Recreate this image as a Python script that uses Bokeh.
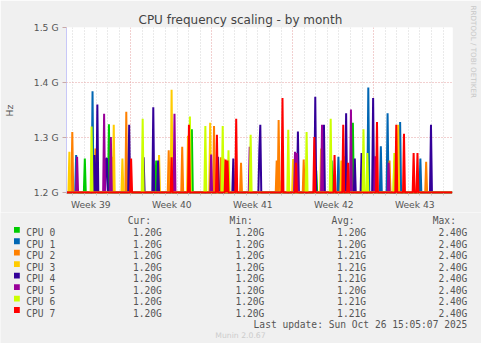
import numpy as np
from bokeh.plotting import figure
from bokeh.layouts import column
from bokeh.models import Range1d, FixedTicker, Grid, Title, PrintfTickFormatter, CustomJSTickFormatter
from bokeh.core.properties import value
from bokeh.embed import file_html
from bokeh.resources import INLINE

# ---------------- data ----------------
cpu_names = ["CPU 0", "CPU 1", "CPU 2", "CPU 3", "CPU 4", "CPU 5", "CPU 6", "CPU 7"]
cur_vals = ["1.20G", "1.20G", "1.20G", "1.20G", "1.20G", "1.20G", "1.20G", "1.20G"]
min_vals = ["1.20G", "1.20G", "1.20G", "1.20G", "1.20G", "1.20G", "1.20G", "1.20G"]
avg_vals = ["1.20G", "1.20G", "1.21G", "1.21G", "1.21G", "1.20G", "1.21G", "1.21G"]
max_vals = ["2.40G", "2.40G", "2.40G", "2.40G", "2.40G", "2.40G", "2.40G", "2.40G"]
col_heads = ["Cur:", "Min:", "Avg:", "Max:"]

base_ghz = 1.2
n_days = 33.36           # visible time span (days)
samples_per_day = 12     # 2-hour resolution

# spikes: day offset from left edge, peak value in GHz
cpu0_days = [1.58, 3.67, 7.75, 10.86, 21.60, 22.94, 24.78]
cpu0_ghz = [1.262, 1.324, 1.258, 1.315, 1.240, 1.258, 1.327]
cpu1_days = [0.81, 2.25, 23.47, 26.11, 27.19, 27.78, 28.86, 30.61]
cpu1_ghz = [1.268, 1.384, 1.265, 1.391, 1.284, 1.344, 1.328, 1.262]
cpu2_days = [0.53, 2.53, 4.00, 5.19, 8.86, 9.97, 12.75, 13.31, 13.58, 15.11, 18.17,
             18.36, 20.53, 27.89, 31.11]
cpu2_ghz = [1.310, 1.280, 1.265, 1.347, 1.277, 1.283, 1.321, 1.264, 1.262, 1.254, 1.258,
            1.332, 1.260, 1.258, 1.256]
cpu3_days = [0.25, 4.08, 4.86, 8.03, 9.08, 10.47, 12.42, 18.58, 19.58, 22.03, 23.78,
             24.08, 28.31, 28.69]
cpu3_ghz = [1.274, 1.323, 1.262, 1.268, 1.387, 1.303, 1.327, 1.222, 1.261, 1.280, 1.258,
            1.266, 1.258, 1.323]
cpu4_days = [2.42, 2.69, 3.39, 3.53, 5.44, 6.69, 7.53, 7.92, 13.08, 14.44, 16.64, 16.78,
             20.03, 21.53, 22.25, 24.19, 24.89, 25.53, 26.53, 31.53]
cpu4_ghz = [1.268, 1.360, 1.262, 1.262, 1.323, 1.264, 1.355, 1.258, 1.265, 1.262, 1.277,
            1.323, 1.311, 1.374, 1.323, 1.344, 1.262, 1.272, 1.372, 1.323]
cpu5_days = [0.92, 3.25, 3.86, 9.36, 12.47, 15.81, 19.78, 19.92, 22.11, 24.61, 26.69, 27.83]
cpu5_ghz = [1.265, 1.343, 1.301, 1.343, 1.269, 1.283, 1.274, 1.272, 1.323, 1.351, 1.266, 1.254]
cpu6_days = [2.19, 6.58, 10.67, 12.00, 13.53, 14.03, 15.94, 19.14, 20.78, 22.86, 25.69,
             26.00, 28.36]
cpu6_ghz = [1.320, 1.334, 1.338, 1.321, 1.321, 1.277, 1.305, 1.314, 1.310, 1.334, 1.315,
            1.272, 1.272]
cpu7_days = [5.58, 9.11, 10.61, 13.03, 13.78, 13.92, 14.69, 18.64, 19.81, 21.44, 23.19,
             23.94, 24.36, 26.86, 28.53, 29.19, 30.03, 30.36]
cpu7_ghz = [1.262, 1.264, 1.323, 1.305, 1.260, 1.258, 1.334, 1.372, 1.254, 1.301, 1.268,
            1.323, 1.254, 1.328, 1.323, 1.307, 1.272, 1.272]

spike_days = [cpu0_days, cpu1_days, cpu2_days, cpu3_days, cpu4_days, cpu5_days, cpu6_days, cpu7_days]
spike_ghz = [cpu0_ghz, cpu1_ghz, cpu2_ghz, cpu3_ghz, cpu4_ghz, cpu5_ghz, cpu6_ghz, cpu7_ghz]

week_labels = ["Week 39", "Week 40", "Week 41", "Week 42", "Week 43"]
week_label_days = [2.1, 9.1, 16.1, 23.1, 30.1]
week_start_days = [5.55, 12.55, 19.55, 26.55]
first_day_line = 0.55
y_ticks = [1.2, 1.3, 1.4, 1.5]

title = "CPU frequency scaling - by month"
last_update = "Last update: Sun Oct 26 15:05:07 2025"
version = "Munin 2.0.67"
watermark = "RRDTOOL / TOBI OETIKER"

# ---------------- styles / layout ----------------
colors = ["#00cc00", "#0066b3", "#ff8000", "#ffcc00", "#330099", "#990099", "#ccff00", "#ff0000"]
W, H = 481, 343
HM = 212                      # height of the chart part
FL, FT, FW, FH = 65, 27, 387, 167
X0, X1 = 0.0, n_days
Y0, Y1 = 1.19819, 1.5
BG = "#f0f0f0"
TXT = "#555555"
MAJ = "#e4a0a0"
MIN = "#d4d4d4"
AX = "#c8c8f8"
SANS = "DejaVu Sans"
MONO = "DejaVu Sans Mono"

p = figure(width=W, height=HM, output_backend="svg", toolbar_location=None,
           x_range=Range1d(X0, X1), y_range=Range1d(Y0, Y1),
           min_border_left=FL, min_border_top=FT,
           min_border_right=W - FL - FW, min_border_bottom=HM - FT - FH)
p.frame_align = False
p.border_fill_color = BG
p.background_fill_color = "white"
p.outline_line_color = None
p.grid.visible = False

# title (above) and watermark (right)
p.title.text = title
p.title.align = "left"
p.title.offset = 72
p.title.standoff = 1
p.title.text_font = SANS
p.title.text_font_size = "12px"
p.title.text_font_style = "normal"
p.title.text_color = "#444444"
p.add_layout(Title(text=" ", text_font_size="2px", standoff=11), "right")
p.add_layout(Title(text=watermark, align="left", offset=-22, standoff=2,
                   text_font=SANS, text_font_size="7.2px", text_font_style="normal",
                   text_color="#c8c8c8"), "right")

# grids
day_lines = [first_day_line + k for k in range(int(n_days) + 1)
             if first_day_line + k < n_days and all(abs(first_day_line + k - w) > 1e-6 for w in week_start_days)]
p.add_layout(Grid(dimension=0, ticker=FixedTicker(ticks=day_lines), grid_line_color=MIN,
                  grid_line_dash="1 2", grid_line_width=1))
p.add_layout(Grid(dimension=0, ticker=FixedTicker(ticks=week_start_days), grid_line_color=MAJ,
                  grid_line_dash="1 2", grid_line_width=1))
p.add_layout(Grid(dimension=1, ticker=FixedTicker(ticks=y_ticks[1:]), grid_line_color=MAJ,
                  grid_line_dash="1 2", grid_line_width=1))

# axes
p.yaxis.ticker = FixedTicker(ticks=y_ticks)
p.yaxis.formatter = PrintfTickFormatter(format="%.1f G")
p.yaxis.axis_line_color = AX
p.yaxis.major_tick_out = 4
p.yaxis.major_tick_in = 0
p.yaxis.major_tick_line_color = "#c8a8a8"
p.yaxis.minor_tick_line_color = None
p.yaxis.major_label_standoff = 4
p.yaxis.major_label_text_font = SANS
p.yaxis.major_label_text_font_size = "9.2px"
p.yaxis.major_label_text_color = TXT
p.yaxis.axis_label = "Hz"
p.yaxis.axis_label_standoff = 16
p.yaxis.axis_label_text_font = SANS
p.yaxis.axis_label_text_font_size = "9.2px"
p.yaxis.axis_label_text_font_style = "normal"
p.yaxis.axis_label_text_color = TXT

p.xaxis.ticker = FixedTicker(ticks=week_label_days, minor_ticks=sorted(day_lines + week_start_days))
p.xaxis.formatter = CustomJSTickFormatter(
    args=dict(labels=week_labels, pos=week_label_days),
    code="for (let i = 0; i < pos.length; i++) { if (Math.abs(pos[i] - tick) < 1e-6) return labels[i]; } return '';")
p.xaxis.axis_line_color = None
p.xaxis.major_tick_line_color = None
p.xaxis.major_tick_out = 0
p.xaxis.major_tick_in = 0
p.xaxis.minor_tick_line_color = "#c8c8c8"
p.xaxis.minor_tick_out = 2
p.xaxis.minor_tick_in = 0
p.xaxis.major_label_standoff = 3
p.xaxis.major_label_text_font = SANS
p.xaxis.major_label_text_font_size = "9.2px"
p.xaxis.major_label_text_color = TXT

# series (CPU 7 drawn last, on top)
n = int(round(n_days * samples_per_day))
t = np.arange(n + 1) / samples_per_day
for days, ghz, c in zip(spike_days, spike_ghz, colors):
    v = np.full(n + 1, base_ghz)
    for d, g in zip(days, ghz):
        v[int(round(d * samples_per_day))] = g
    p.line(t, v, line_color=c, line_width=2)

# ---------------- legend / footer panel ----------------
HL = H - HM
q = figure(width=W, height=HL, output_backend="svg", toolbar_location=None,
           x_range=Range1d(0, W), y_range=Range1d(H, HM),
           x_axis_type=None, y_axis_type=None,
           min_border_left=0, min_border_right=0, min_border_top=0, min_border_bottom=0)
q.frame_align = False
q.border_fill_color = BG
q.background_fill_color = BG
q.outline_line_color = None
q.grid.visible = False

row_y = [232.4 + 11.46 * i for i in range(len(cpu_names))]
q.rect(x=[16.4] * len(cpu_names), y=[ry - 3.1 for ry in row_y], width=5.8, height=5.8,
       fill_color=colors, line_color=None)
q.text(x=[25.8] * len(cpu_names), y=row_y, text=cpu_names, text_font=value(MONO),
       text_font_size="9.6px", text_color=TXT, text_baseline="alphabetic", text_align="left")
q.text(x=[127.3, 229.1, 331.0, 432.3], y=[220.4] * 4, text=col_heads, text_font=value(MONO),
       text_font_size="9.6px", text_color=TXT, text_baseline="alphabetic", text_align="left")
for rx, col in zip([161.3, 263.9, 365.5, 466.8], [cur_vals, min_vals, avg_vals, max_vals]):
    q.text(x=[rx] * len(col), y=row_y, text=col, text_font=value(MONO),
           text_font_size="9.6px", text_color=TXT, text_baseline="alphabetic", text_align="right")
q.text(x=[466.8], y=[323.9], text=[last_update], text_font=value(MONO),
       text_font_size="9.6px", text_color=TXT, text_baseline="alphabetic", text_align="right")
q.text(x=[240.0], y=[335.0], text=[version], text_font=value(SANS),
       text_font_size="7.7px", text_color="#cccccc", text_baseline="alphabetic", text_align="center")

layout = column(p, q, spacing=0)
open("out.html", "w").write(file_html(layout, INLINE))
